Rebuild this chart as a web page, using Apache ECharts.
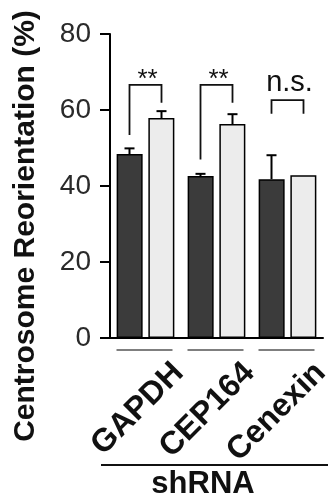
<!DOCTYPE html>
<html>
<head>
<meta charset="utf-8">
<title>Centrosome Reorientation</title>
<script src="https://cdn.jsdelivr.net/npm/echarts@6/dist/echarts.min.js"></script>
<style>
html,body{margin:0;padding:0;background:#fff;}
#chart{width:328px;height:499px;}
</style>
</head>
<body>
<div id="chart"></div>
<script>
var categories = ['GAPDH', 'CEP164', 'Cenexin'];
var darkMeans = [48.4, 42.6, 41.8];
var darkErrs = [1.5, 0.6, 6.3];
var lightMeans = [57.9, 56.3, 42.8];
var lightErrs = [1.8, 2.6, 0];
// significance brackets: top, left leg bottom, right leg bottom
var bracketTop = [66.6, 66.6, 62.6];
var bracketLeft = [53.4, 47.0, 59.0];
var bracketRight = [61.9, 61.9, 59.0];
var sigLabels = ['**', '**', 'n.s.'];
var sigLabelY = [68.0, 68.0, 67.0];
var yName = 'Centrosome Reorientation (%)';
var groupName = 'shRNA';

var FONT = "'Liberation Sans', Arial, sans-serif";
var BAR_W = 27, GAP = 5;
var SHIFT = (BAR_W + GAP) / 2;   // bar centre offset from category centre

var chart = echarts.init(document.getElementById('chart'), null, {renderer: 'canvas'});

function errData(means, errs) {
    return means.map(function (m, i) { return [i, m, errs[i]]; });
}

function errRender(side) {
    return function (params, api) {
        if (!api.value(2)) return null;
        var p = api.coord([api.value(0), api.value(1)]);
        var q = api.coord([api.value(0), api.value(1) + api.value(2)]);
        var x = p[0] + side * SHIFT;
        var st = {stroke: '#000', lineWidth: 2, fill: null};
        return {
            type: 'group',
            children: [
                {type: 'line', shape: {x1: x, y1: p[1], x2: x, y2: q[1]}, style: st},
                {type: 'line', shape: {x1: x - 5, y1: q[1], x2: x + 5, y2: q[1]}, style: st}
            ]
        };
    };
}

var bracketData = categories.map(function (c, i) {
    return [i, bracketTop[i], bracketLeft[i], bracketRight[i], sigLabelY[i]];
});

var option = {
    animation: false,
    backgroundColor: '#fff',
    grid: [
        {left: 110, right: 5, top: 34, bottom: 161, outerBoundsMode: 'none'},
        {left: 143, width: 213, top: 34, bottom: 161, outerBoundsMode: 'none'}
    ],
    xAxis: [{
        type: 'category',
        data: categories,
        gridIndex: 0,
        axisLine: {lineStyle: {color: '#000', width: 2}},
        axisTick: {show: false},
        axisLabel: {show: false}
    }, {
        type: 'category',
        data: categories,
        gridIndex: 1,
        axisLine: {show: false},
        axisTick: {show: false},
        axisLabel: {
            rotate: 45, margin: 30, interval: 0,
            fontFamily: FONT, fontSize: 32, fontWeight: 'bold', color: '#111'
        }
    }],
    yAxis: [{
        type: 'value',
        gridIndex: 0,
        min: 0, max: 80, interval: 20,
        axisLine: {show: true, lineStyle: {color: '#000', width: 2}},
        axisTick: {show: true, length: 10, lineStyle: {color: '#000', width: 2}},
        axisLabel: {fontFamily: FONT, fontSize: 28, color: '#2a2a2a', margin: 19},
        splitLine: {show: false}
    }, {
        type: 'value',
        gridIndex: 1,
        min: 0, max: 80,
        show: false
    }],
    graphic: [
        {
            type: 'text', x: 26, y: 226, rotation: Math.PI / 2,
            style: {text: yName, font: 'bold 30px ' + FONT, fill: '#111',
                    textAlign: 'center', textVerticalAlign: 'middle'}
        },
        {
            type: 'line', shape: {x1: 101, y1: 465, x2: 328, y2: 465},
            style: {stroke: '#111', lineWidth: 2}
        },
        {
            type: 'text', x: 203, y: 484,
            style: {text: groupName, font: 'bold 31px ' + FONT, fill: '#111',
                    textAlign: 'center', textVerticalAlign: 'middle'}
        }
    ],
    series: [
        {
            type: 'bar', data: darkMeans, barWidth: BAR_W - 1, barGap: '22%',
            itemStyle: {color: '#3b3b3b', borderColor: '#000', borderWidth: 1.5}
        },
        {
            type: 'bar', data: lightMeans, barWidth: BAR_W - 1,
            itemStyle: {color: '#ececec', borderColor: '#000', borderWidth: 1.5}
        },
        {type: 'custom', data: errData(darkMeans, darkErrs), renderItem: errRender(-1), clip: false, z: 3},
        {type: 'custom', data: errData(lightMeans, lightErrs), renderItem: errRender(1), clip: false, z: 3},
        {
            type: 'custom', data: bracketData, clip: false, z: 4,
            renderItem: function (params, api) {
                var c = api.coord([api.value(0), 0])[0];
                var yt = api.coord([api.value(0), api.value(1)])[1];
                var yl = api.coord([api.value(0), api.value(2)])[1];
                var yr = api.coord([api.value(0), api.value(3)])[1];
                var ylab = api.coord([api.value(0), api.value(4)])[1];
                var xl = c - SHIFT, xr = c + SHIFT;
                var txt = sigLabels[params.dataIndex];
                return {
                    type: 'group',
                    children: [
                        {type: 'polyline', shape: {points: [[xl, yl], [xl, yt], [xr, yt], [xr, yr]]},
                         style: {stroke: '#111', lineWidth: 1.8, fill: null}},
                        {type: 'text', x: c + 2, y: ylab,
                         style: {text: txt, font: (txt === '**' ? '26px ' : '29px ') + FONT, fill: '#111',
                                 textAlign: 'center', textVerticalAlign: 'middle'}}
                    ]
                };
            }
        },
        {
            // group underlines below the axis
            type: 'custom', data: categories.map(function (c, i) { return [i, 0]; }), clip: false,
            renderItem: function (params, api) {
                var p = api.coord([api.value(0), 0]);
                return {type: 'line', shape: {x1: p[0] - 29, y1: p[1] + 12, x2: p[0] + 27, y2: p[1] + 12},
                        style: {stroke: '#555', lineWidth: 1.5}};
            }
        }
    ]
};

chart.setOption(option);
</script>
</body>
</html>
